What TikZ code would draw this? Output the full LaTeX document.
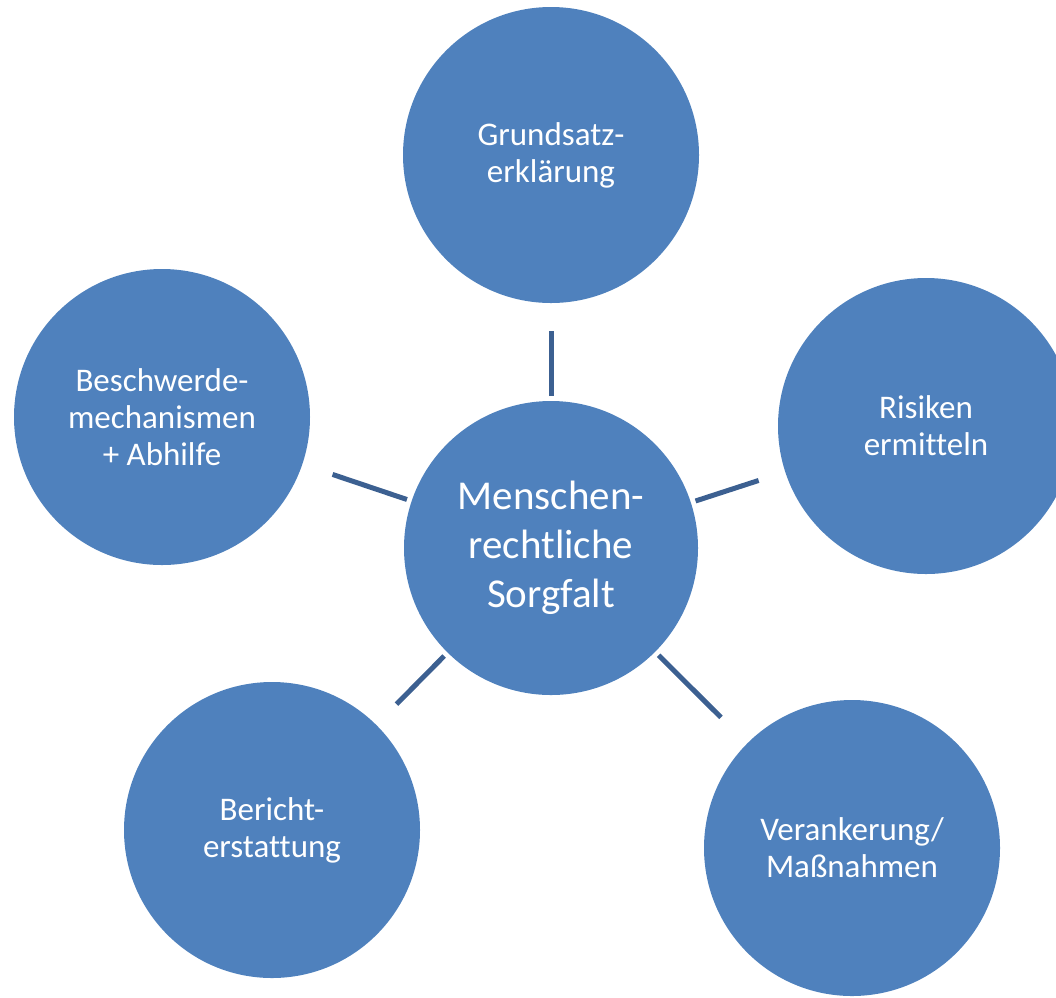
\documentclass[tikz,border=0pt]{standalone}
\usepackage{fontspec}
\setmainfont[Ligatures=NoCommon]{Carlito}
\definecolor{circfill}{RGB}{79,129,189}
\definecolor{linkcol}{RGB}{60,96,145}
\begin{document}
\begin{tikzpicture}[x=1pt,y=-1pt,
  bubble/.style={circle,fill=circfill,draw=none,minimum size=296pt,inner sep=0pt,outer sep=0pt,
    text=white,align=center,font=\fontsize{33}{37}\selectfont},
  hub/.style={bubble,minimum size=294pt,font=\fontsize{41}{49}\selectfont},
  link/.style={draw=linkcol,line width=5pt,shorten <=5pt}]
\useasboundingbox (0,0) rectangle (1056,997);
\node[hub] (c) at (551,548) {Menschen-\\rechtliche\\Sorgfalt};
\node[bubble] (t) at (551,155) {Grundsatz-\\erklärung};
\node[bubble] (r) at (926,426) {Risiken\\ermitteln};
\node[bubble] (br) at (852,848) {Verankerung/\\Maßnahmen};
\node[bubble] (bl) at (272,830) {Bericht-\\erstattung};
\node[bubble] (l) at (162,417) {Beschwerde-\\mechanismen\\+ Abhilfe};
\draw[link,shorten >=28pt] (c) -- (t);
\draw[link,shorten >=28pt] (c) -- (r);
\draw[link,shorten >=37pt] (c) -- (br);
\draw[link,shorten >=29pt] (c) -- (bl);
\draw[link,shorten >=32pt] (c) -- (l);
\end{tikzpicture}
\end{document}
